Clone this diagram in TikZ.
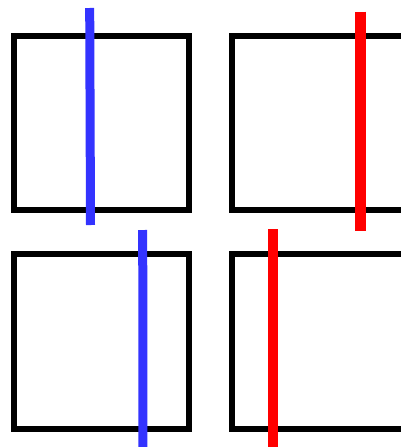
\documentclass[tikz,border=0pt]{standalone}
\definecolor{myblue}{RGB}{51,51,255}
\definecolor{myred}{RGB}{255,0,0}
\begin{document}
\begin{tikzpicture}[x=1pt,y=-1pt,
  boxline/.style={draw=black,line width=6pt},
  blueline/.style={draw=myblue,line width=9pt},
  redline/.style={draw=myred,line width=10.6pt}]
\useasboundingbox (0,0) rectangle (401,447);
\clip (0,0) rectangle (401,447);
% squares
\draw[boxline] (14,36.3) rectangle (188.5,210.3);
\draw[boxline] (232.3,36.3) rectangle (440,210.3);
\draw[boxline] (14,254) rectangle (188.5,428.7);
\draw[boxline] (232.3,254) rectangle (440,428.7);
% lines
\draw[blueline] (89.7,8) -- (90.5,225);
\draw[redline] (360.3,11.7) -- (360.3,230.7);
\draw[blueline] (142.7,230) -- (143,450);
\draw[redline] (273,229.3) -- (273,450);
\end{tikzpicture}
\end{document}
